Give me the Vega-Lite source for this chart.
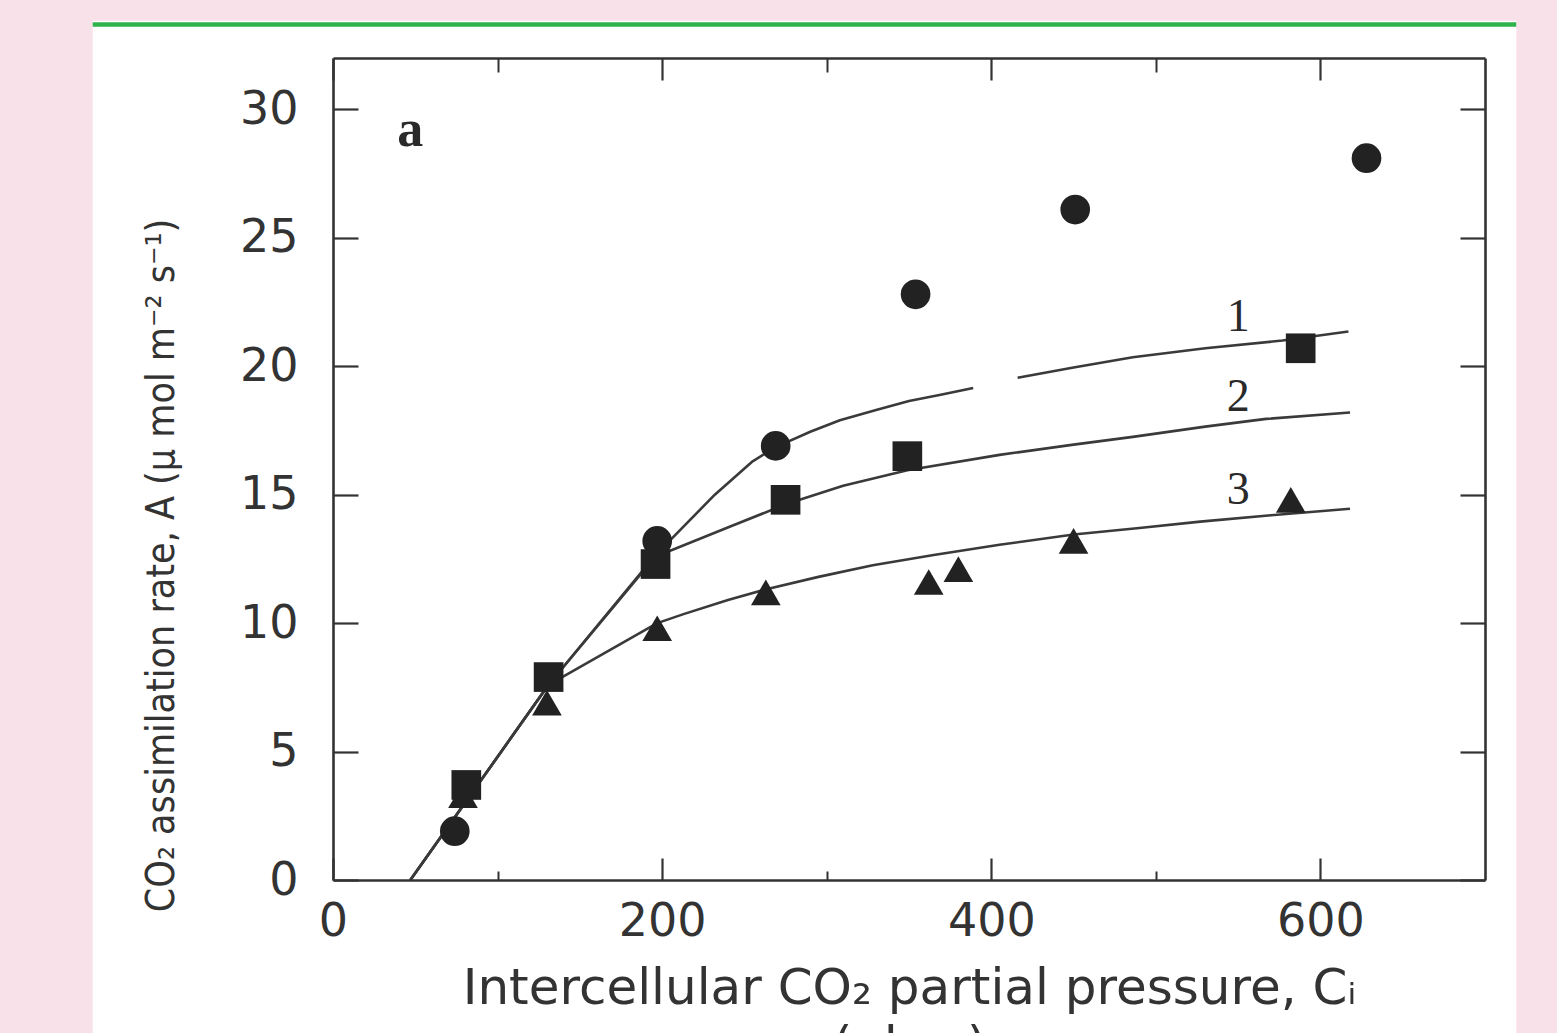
{
  "$schema": "https://vega.github.io/schema/vega-lite/v6.json",
  "width": 1152,
  "height": 822,
  "autosize": {"type": "none"},
  "padding": {"left": 333, "top": 58, "right": 72, "bottom": 153},
  "background": "#f9e1ea",
  "config": {"view": {"stroke": null}},
  "datasets": {
    "curves": [
      {"seg": "1a", "ci": 47, "a": 0},
      {"seg": "1a", "ci": 131, "a": 7.6},
      {"seg": "1a", "ci": 196, "a": 12.65},
      {"seg": "1a", "ci": 232, "a": 15.0},
      {"seg": "1a", "ci": 255, "a": 16.3},
      {"seg": "1a", "ci": 269, "a": 16.85},
      {"seg": "1a", "ci": 290, "a": 17.45},
      {"seg": "1a", "ci": 308, "a": 17.9},
      {"seg": "1a", "ci": 330, "a": 18.3},
      {"seg": "1a", "ci": 350, "a": 18.65},
      {"seg": "1a", "ci": 370, "a": 18.9},
      {"seg": "1a", "ci": 389, "a": 19.15},
      {"seg": "1b", "ci": 416, "a": 19.55},
      {"seg": "1b", "ci": 450, "a": 19.95},
      {"seg": "1b", "ci": 486, "a": 20.35},
      {"seg": "1b", "ci": 530, "a": 20.7},
      {"seg": "1b", "ci": 577, "a": 21.0},
      {"seg": "1b", "ci": 617, "a": 21.35},
      {"seg": "2", "ci": 47, "a": 0},
      {"seg": "2", "ci": 131, "a": 7.6},
      {"seg": "2", "ci": 196, "a": 12.6},
      {"seg": "2", "ci": 206, "a": 12.85},
      {"seg": "2", "ci": 241, "a": 13.75},
      {"seg": "2", "ci": 276, "a": 14.65},
      {"seg": "2", "ci": 310, "a": 15.35},
      {"seg": "2", "ci": 349, "a": 15.95},
      {"seg": "2", "ci": 405, "a": 16.55},
      {"seg": "2", "ci": 450, "a": 16.95},
      {"seg": "2", "ci": 486, "a": 17.25},
      {"seg": "2", "ci": 530, "a": 17.65},
      {"seg": "2", "ci": 567, "a": 17.95},
      {"seg": "2", "ci": 618, "a": 18.2},
      {"seg": "3", "ci": 47, "a": 0},
      {"seg": "3", "ci": 131, "a": 7.6},
      {"seg": "3", "ci": 197, "a": 10.0},
      {"seg": "3", "ci": 213, "a": 10.35},
      {"seg": "3", "ci": 240, "a": 10.9},
      {"seg": "3", "ci": 262, "a": 11.3},
      {"seg": "3", "ci": 295, "a": 11.8},
      {"seg": "3", "ci": 328, "a": 12.25},
      {"seg": "3", "ci": 365, "a": 12.65},
      {"seg": "3", "ci": 405, "a": 13.05},
      {"seg": "3", "ci": 450, "a": 13.45},
      {"seg": "3", "ci": 490, "a": 13.7},
      {"seg": "3", "ci": 527, "a": 13.95},
      {"seg": "3", "ci": 570, "a": 14.2},
      {"seg": "3", "ci": 618, "a": 14.45}
    ],
    "points": [
      {"series": "circle", "ci": 74, "a": 1.9},
      {"series": "circle", "ci": 197, "a": 13.2},
      {"series": "circle", "ci": 269, "a": 16.9},
      {"series": "circle", "ci": 354, "a": 22.8},
      {"series": "circle", "ci": 451, "a": 26.1},
      {"series": "circle", "ci": 628, "a": 28.1},
      {"series": "square", "ci": 81, "a": 3.7},
      {"series": "square", "ci": 131, "a": 7.9},
      {"series": "square", "ci": 196, "a": 12.3},
      {"series": "square", "ci": 275, "a": 14.8},
      {"series": "square", "ci": 349, "a": 16.5},
      {"series": "square", "ci": 588, "a": 20.7},
      {"series": "triangle-up", "ci": 79, "a": 3.3},
      {"series": "triangle-up", "ci": 130, "a": 6.9},
      {"series": "triangle-up", "ci": 197, "a": 9.8},
      {"series": "triangle-up", "ci": 263, "a": 11.2},
      {"series": "triangle-up", "ci": 362, "a": 11.6},
      {"series": "triangle-up", "ci": 380, "a": 12.1},
      {"series": "triangle-up", "ci": 450, "a": 13.2},
      {"series": "triangle-up", "ci": 582, "a": 14.8}
    ],
    "labels": [
      {"label": "1", "ci": 550, "a": 21.9},
      {"label": "2", "ci": 550, "a": 18.8},
      {"label": "3", "ci": 550, "a": 15.2}
    ],
    "panel": [
      {"label": "a", "ci": 47, "a": 29.2}
    ]
  },
  "resolve": {"axis": {"x": "independent", "y": "independent"}},
  "layer": [
    {
      "data": {"name": "panel"},
      "mark": {"type": "rect", "color": "#ffffff", "clip": false},
      "encoding": {
        "x": {"datum": -146, "type": "quantitative", "scale": {"domain": [0, 700], "nice": false, "zero": false}, "axis": null},
        "x2": {"datum": 719},
        "y": {"datum": 33.45, "type": "quantitative", "scale": {"domain": [0, 32], "nice": false, "zero": false}, "axis": null},
        "y2": {"datum": -6.2}
      }
    },
    {
      "data": {"name": "panel"},
      "mark": {"type": "rule", "color": "#2db34a", "strokeWidth": 4.5, "clip": false},
      "encoding": {
        "x": {"datum": -146, "type": "quantitative", "scale": {"domain": [0, 700], "nice": false, "zero": false}, "axis": null},
        "x2": {"datum": 719},
        "y": {"datum": 33.3, "type": "quantitative", "scale": {"domain": [0, 32], "nice": false, "zero": false}, "axis": null}
      }
    },
    {
      "data": {"name": "curves"},
      "mark": {"type": "line", "color": "#3a3a3a", "strokeWidth": 2.6, "interpolate": "linear", "strokeJoin": "round"},
      "encoding": {
        "x": {
          "field": "ci", "type": "quantitative",
          "scale": {"domain": [0, 700], "nice": false, "zero": false},
          "axis": {
            "zindex": 5,
            "orient": "bottom",
            "values": [0, 200, 400, 600],
            "tickSize": -22, "tickWidth": 2.2, "tickColor": "#333333",
            "domainColor": "#333333", "domainWidth": 2.6,
            "labelFont": "DejaVu Sans", "labelFontSize": 46, "labelColor": "#333333",
            "labelPadding": 41, "labelFlush": false,
            "grid": false,
            "title": ["Intercellular CO₂ partial pressure, Cᵢ", "(μbar)"],
            "titleFont": "DejaVu Sans", "titleFontSize": 50, "titleFontWeight": "normal",
            "titleColor": "#333333", "titleLineHeight": 58,
            "titleBaseline": "top", "titleY": 83
          }
        },
        "y": {
          "field": "a", "type": "quantitative",
          "scale": {"domain": [0, 32], "nice": false, "zero": false},
          "axis": {
            "zindex": 5,
            "orient": "left",
            "values": [0, 5, 10, 15, 20, 25, 30],
            "tickSize": -25, "tickWidth": 2.2, "tickColor": "#333333",
            "domainColor": "#333333", "domainWidth": 2.6,
            "labelFont": "DejaVu Sans", "labelFontSize": 46, "labelColor": "#333333",
            "labelPadding": 60, "labelFlush": false,
            "grid": false,
            "title": "CO₂ assimilation rate, A (μ mol m⁻² s⁻¹)",
            "titleFont": "Liberation Sans Narrow, DejaVu Sans Condensed, Roboto Condensed, sans-serif",
            "titleFontSize": 39, "titleFontWeight": "normal", "titleColor": "#333333",
            "titleAngle": -90, "titleBaseline": "middle", "titleAlign": "center",
            "titleX": -172, "titleY": 507
          }
        },
        "detail": {"field": "seg"}
      }
    },
    {
      "data": {"name": "points"},
      "mark": {"type": "point", "filled": true, "color": "#222222", "opacity": 1},
      "encoding": {
        "x": {
          "field": "ci", "type": "quantitative",
          "scale": {"domain": [0, 700], "nice": false, "zero": false},
          "axis": {"zindex": 5, "orient": "top", "values": [0, 200, 400, 600], "tickSize": -22, "tickWidth": 2.2, "tickColor": "#333333", "domainColor": "#333333", "domainWidth": 2.6, "labels": false, "grid": false, "title": null}
        },
        "y": {
          "field": "a", "type": "quantitative",
          "scale": {"domain": [0, 32], "nice": false, "zero": false},
          "axis": {"zindex": 5, "orient": "right", "values": [0, 5, 10, 15, 20, 25, 30], "tickSize": -25, "tickWidth": 2.2, "tickColor": "#333333", "domainColor": "#333333", "domainWidth": 2.6, "labels": false, "grid": false, "title": null}
        },
        "shape": {
          "field": "series", "type": "nominal",
          "scale": {"domain": ["circle", "square", "triangle-up"], "range": ["circle", "square", "triangle-up"]},
          "legend": null
        },
        "size": {
          "field": "series", "type": "nominal",
          "scale": {"domain": ["circle", "square", "triangle-up"], "range": [880, 880, 1450]},
          "legend": null
        }
      }
    },
    {
      "data": {"name": "labels"},
      "mark": {"type": "text", "font": "Liberation Serif", "fontSize": 46, "color": "#2a2a2a", "align": "center", "baseline": "middle"},
      "encoding": {
        "x": {
          "field": "ci", "type": "quantitative",
          "scale": {"domain": [0, 700], "nice": false, "zero": false},
          "axis": {"zindex": 5, "orient": "bottom", "values": [100, 300, 500], "tickSize": -9, "tickWidth": 2, "tickColor": "#333333", "domain": false, "labels": false, "grid": false, "title": null}
        },
        "y": {
          "field": "a", "type": "quantitative",
          "scale": {"domain": [0, 32], "nice": false, "zero": false},
          "axis": null
        },
        "text": {"field": "label"}
      }
    },
    {
      "data": {"name": "panel"},
      "mark": {"type": "text", "font": "Liberation Serif", "fontSize": 52, "fontWeight": "bold", "color": "#2a2a2a", "align": "center", "baseline": "middle"},
      "encoding": {
        "x": {
          "field": "ci", "type": "quantitative",
          "scale": {"domain": [0, 700], "nice": false, "zero": false},
          "axis": {"zindex": 5, "orient": "top", "values": [100, 300, 500], "tickSize": -14, "tickWidth": 2, "tickColor": "#333333", "domain": false, "labels": false, "grid": false, "title": null}
        },
        "y": {
          "field": "a", "type": "quantitative",
          "scale": {"domain": [0, 32], "nice": false, "zero": false},
          "axis": null
        },
        "text": {"field": "label"}
      }
    }
  ]
}
